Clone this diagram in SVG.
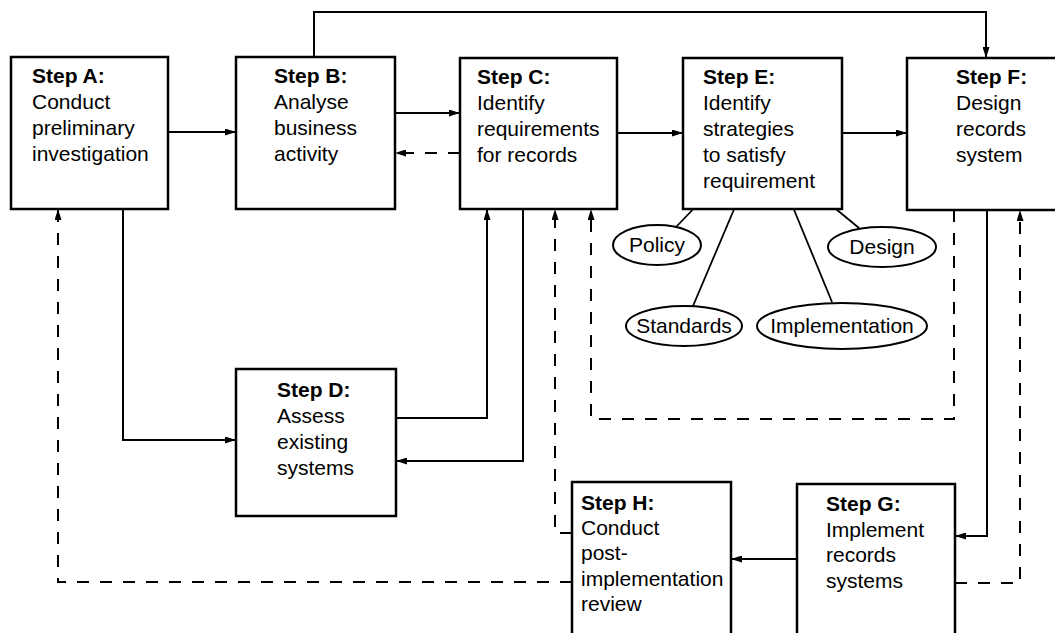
<svg xmlns="http://www.w3.org/2000/svg" width="1055" height="633" viewBox="0 0 1055 633">
<style>
.box{fill:#fff;stroke:#000;stroke-width:2.5}
.t{font-family:"Liberation Sans",Arial,sans-serif;font-size:21px;fill:#000}
.b{font-weight:bold}
.c{fill:none;stroke:#000;stroke-width:2}
.d{fill:none;stroke:#000;stroke-width:2;stroke-dasharray:12 11}
.l{fill:none;stroke:#000;stroke-width:1.8}
.e{fill:#fff;stroke:#000;stroke-width:2}
.m{text-anchor:middle}
</style>
<defs>
<marker id="ah" markerUnits="userSpaceOnUse" markerWidth="11" markerHeight="7" refX="11" refY="3.5" orient="auto">
<path d="M0,0 L11,3.5 L0,7 z" fill="#000"/>
</marker>
</defs>
<rect width="1055" height="633" fill="#fff"/>
<g id="connectors">
<path class="c" d="M168,132 H236" marker-end="url(#ah)"/>
<path class="c" d="M395,113 H460" marker-end="url(#ah)"/>
<path class="d" d="M460,153 H395" marker-end="url(#ah)"/>
<path class="c" d="M314,57 V12 H986 V58" marker-end="url(#ah)"/>
<path class="c" d="M617,133 H683" marker-end="url(#ah)"/>
<path class="c" d="M842,133 H907" marker-end="url(#ah)"/>
<path class="c" d="M123,209 V440 H236" marker-end="url(#ah)"/>
<path class="c" d="M396,418 H487 V209" marker-end="url(#ah)"/>
<path class="c" d="M523,209 V461 H396" marker-end="url(#ah)"/>
<path class="d" d="M954,210 V419 H591 V209" marker-end="url(#ah)"/>
<path class="c" d="M987,210 V536 H955" marker-end="url(#ah)"/>
<path class="d" d="M955,583 H1020 V210" marker-end="url(#ah)"/>
<path class="c" d="M797,559 H731" marker-end="url(#ah)"/>
<path class="d" d="M572,533 H555 V209" marker-end="url(#ah)"/>
<path class="d" d="M572,582 H58 V209" marker-end="url(#ah)"/>
<path class="l" d="M702,200 L676,227"/>
<path class="l" d="M738,200 L693,306"/>
<path class="l" d="M790,200 L832,302"/>
<path class="l" d="M825,200 L859,228"/>
</g>
<g id="stepA">
<rect class="box" x="11" y="57" width="157" height="152"/>
<text class="t" x="32"><tspan class="b" x="32" y="83">Step A:</tspan><tspan x="32" y="109">Conduct</tspan><tspan x="32" y="135">preliminary</tspan><tspan x="32" y="161">investigation</tspan></text>
</g>
<g id="stepB">
<rect class="box" x="236" y="57" width="159" height="152"/>
<text class="t"><tspan class="b" x="274" y="83">Step B:</tspan><tspan x="274" y="109">Analyse</tspan><tspan x="274" y="135">business</tspan><tspan x="274" y="161">activity</tspan></text>
</g>
<g id="stepC">
<rect class="box" x="460" y="58" width="157" height="151"/>
<text class="t"><tspan class="b" x="477" y="84">Step C:</tspan><tspan x="477" y="110">Identify</tspan><tspan x="477" y="136">requirements</tspan><tspan x="477" y="162">for records</tspan></text>
</g>
<g id="stepE">
<rect class="box" x="683" y="58" width="159" height="151"/>
<text class="t"><tspan class="b" x="703" y="84">Step E:</tspan><tspan x="703" y="110">Identify</tspan><tspan x="703" y="136">strategies</tspan><tspan x="703" y="162">to satisfy</tspan><tspan x="703" y="188">requirement</tspan></text>
</g>
<g id="stepF">
<rect class="box" x="907" y="58" width="160" height="152"/>
<text class="t"><tspan class="b" x="956" y="84">Step F:</tspan><tspan x="956" y="110">Design</tspan><tspan x="956" y="136">records</tspan><tspan x="956" y="162">system</tspan></text>
</g>
<g id="stepD">
<rect class="box" x="236" y="369" width="160" height="147"/>
<text class="t"><tspan class="b" x="277" y="397">Step D:</tspan><tspan x="277" y="423">Assess</tspan><tspan x="277" y="449">existing</tspan><tspan x="277" y="475">systems</tspan></text>
</g>
<g id="stepG">
<rect class="box" x="797" y="484" width="158" height="160"/>
<text class="t"><tspan class="b" x="826" y="511">Step G:</tspan><tspan x="826" y="537">Implement</tspan><tspan x="826" y="562">records</tspan><tspan x="826" y="588">systems</tspan></text>
</g>
<g id="stepH">
<rect class="box" x="572" y="482" width="159" height="162"/>
<text class="t"><tspan class="b" x="581" y="510">Step H:</tspan><tspan x="581" y="535">Conduct</tspan><tspan x="581" y="560">post-</tspan><tspan x="581" y="586">implementation</tspan><tspan x="581" y="611">review</tspan></text>
</g>
<g id="policy">
<ellipse class="e" cx="657" cy="245" rx="44" ry="20"/>
<text class="t m" x="657" y="252">Policy</text>
</g>
<g id="design">
<ellipse class="e" cx="882" cy="247" rx="54" ry="20"/>
<text class="t m" x="882" y="254">Design</text>
</g>
<g id="standards">
<ellipse class="e" cx="684" cy="326" rx="58" ry="20"/>
<text class="t m" x="684" y="333">Standards</text>
</g>
<g id="implementation">
<ellipse class="e" cx="842" cy="326" rx="85" ry="23"/>
<text class="t m" x="842" y="333">Implementation</text>
</g>
</svg>
